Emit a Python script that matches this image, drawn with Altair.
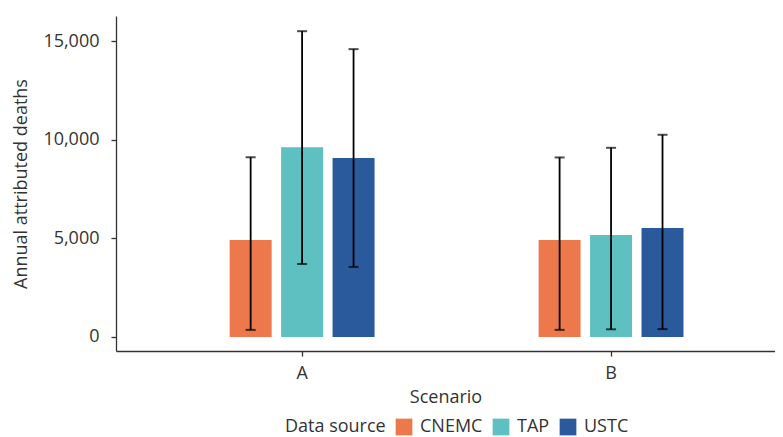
import altair as alt
import pandas as pd

scenarios = ["A", "A", "A", "B", "B", "B"]
sources = ["CNEMC", "TAP", "USTC", "CNEMC", "TAP", "USTC"]
values = [4910, 9620, 9070, 4910, 5170, 5520]
lower = [360, 3700, 3550, 360, 390, 400]
upper = [9110, 15500, 14590, 9100, 9590, 10250]

source_order = ["CNEMC", "TAP", "USTC"]
source_colors = ["#EC784B", "#5EC0C1", "#2A5A9C"]

df = pd.DataFrame({
    "Scenario": scenarios,
    "Source": sources,
    "Deaths": values,
    "Lower": lower,
    "Upper": upper,
})

FONT = "Open Sans"

x_enc = alt.X(
    "Scenario:N",
    title="Scenario",
    scale=alt.Scale(paddingInner=0.531, paddingOuter=0.332, align=0.554),
    axis=alt.Axis(labelAngle=0),
)
xo = alt.XOffset(
    "Source:N",
    sort=source_order,
    scale=alt.Scale(paddingInner=0.184, paddingOuter=0),
)
y_scale = alt.Scale(domain=[-710, 16270], nice=False, zero=False)

base = alt.Chart(df)

bars = base.mark_bar().encode(
    x=x_enc,
    xOffset=xo,
    y=alt.Y(
        "Deaths:Q",
        title="Annual attributed deaths",
        scale=y_scale,
        axis=alt.Axis(values=[0, 5000, 10000, 15000], format=",d"),
    ),
    y2=alt.Y2(datum=0),
    color=alt.Color(
        "Source:N",
        sort=source_order,
        scale=alt.Scale(domain=source_order, range=source_colors),
        legend=alt.Legend(
            title="Data source",
            orient="none",
            legendX=169,
            legendY=402,
            direction="horizontal",
            titleOrient="left",
            symbolType="square",
            symbolSize=280,
            symbolStrokeWidth=0,
        ),
    ),
)

rules = base.mark_rule(color="black", strokeWidth=1.8).encode(
    x=x_enc,
    xOffset=xo,
    y=alt.Y("Lower:Q", scale=y_scale),
    y2="Upper:Q",
)

caps_hi = base.mark_tick(color="black", thickness=2, size=10, orient="horizontal").encode(
    x=x_enc,
    xOffset=xo,
    y=alt.Y("Upper:Q", scale=y_scale),
)
caps_lo = base.mark_tick(color="black", thickness=2, size=10, orient="horizontal").encode(
    x=x_enc,
    xOffset=xo,
    y=alt.Y("Lower:Q", scale=y_scale),
)

chart = (
    alt.layer(bars, rules, caps_hi, caps_lo)
    .properties(width=659, height=335, padding={"top": 8, "left": 4, "right": 0, "bottom": 0})
    .configure_view(stroke=None)
    .configure_axis(
        grid=False,
        domainColor="#333333",
        domainWidth=1.3,
        tickColor="#333333",
        tickWidth=1.3,
        tickSize=5,
        labelFont=FONT,
        labelFontSize=18,
        labelColor="#333333",
        titleFont=FONT,
        titleFontSize=18,
        titleFontWeight="normal",
        titleColor="#333333",
    )
    .configure_axisY(labelPadding=12, titlePadding=12)
    .configure_axisX(labelPadding=8, titlePadding=6)
    .configure_legend(
        labelFont=FONT,
        labelFontSize=18,
        labelColor="#333333",
        titleFont=FONT,
        titleFontSize=18,
        titleFontWeight="normal",
        titleColor="#333333",
        columnPadding=9,
        labelOffset=7,
        titlePadding=9,
    )
)

chart.save("out.html", embed_options={"renderer": "svg", "actions": False})
